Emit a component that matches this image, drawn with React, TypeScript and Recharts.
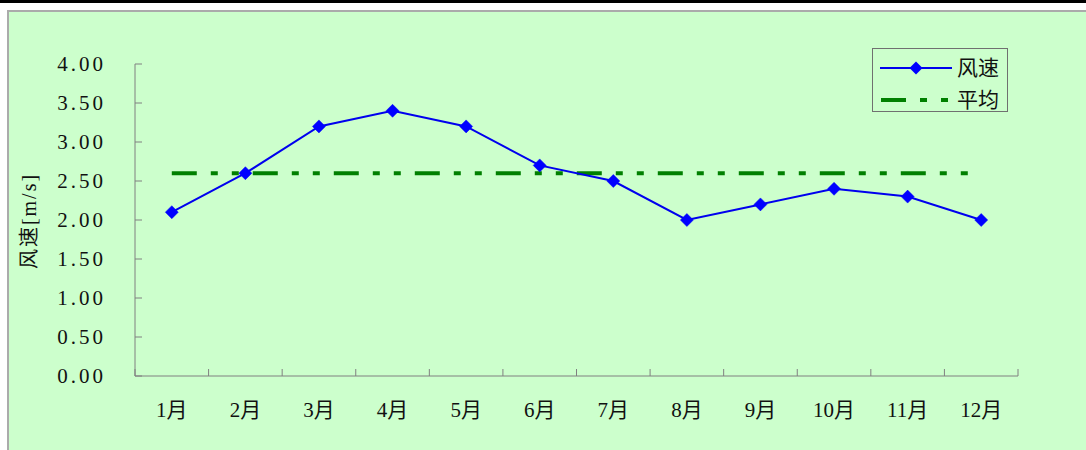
import React from 'react';
import { LineChart, Line, XAxis, YAxis, Legend } from 'recharts';

const months = ['1月', '2月', '3月', '4月', '5月', '6月', '7月', '8月', '9月', '10月', '11月', '12月'];
const windSpeed = [2.1, 2.6, 3.2, 3.4, 3.2, 2.7, 2.5, 2.0, 2.2, 2.4, 2.3, 2.0];
const average = [2.6, 2.6, 2.6, 2.6, 2.6, 2.6, 2.6, 2.6, 2.6, 2.6, 2.6, 2.6];
const yTicks = [0, 0.5, 1, 1.5, 2, 2.5, 3, 3.5, 4];
const seriesNames = { wind: '风速', avg: '平均' };
const yTitle = '风速[m/s]';

const data = months.map((m, i) => ({ month: m, wind: windSpeed[i], avg: average[i] }));

const W = 1086;
const H = 450;
const LEFT = 135;
const RIGHT_M = 68;
const TOP = 64;
const XAXIS_H = 74;
const PLOT_W = W - LEFT - RIGHT_M;
const BAND = PLOT_W / months.length;
const AXIS_COLOR = '#808080';
const FONT = "'Liberation Serif', 'Noto Sans CJK SC', serif";
const X_MARGIN = 26;
const Y_MARGIN = 32;

const XTick = (props: any) => {
  const { x, y, payload, index } = props;
  const axisY = y - X_MARGIN;
  const isLast = index === months.length - 1;
  return (
    <g>
      <line x1={x - BAND / 2} x2={x - BAND / 2} y1={axisY} y2={axisY - 7} stroke={AXIS_COLOR} strokeWidth={1} />
      {isLast && (
        <line x1={x + BAND / 2} x2={x + BAND / 2} y1={axisY} y2={axisY - 7} stroke={AXIS_COLOR} strokeWidth={1} />
      )}
      <text x={x} y={y} dy="0.71em" textAnchor="middle" fontSize={21} fontFamily={FONT} fill="#111">
        {payload.value}
      </text>
    </g>
  );
};

const YTick = (props: any) => {
  const { x, y, payload } = props;
  const axisX = x + Y_MARGIN;
  return (
    <g>
      <line x1={axisX} x2={axisX + 7} y1={y} y2={y} stroke={AXIS_COLOR} strokeWidth={1} />
      <text x={x + 3} y={y} dy="0.355em" textAnchor="end" fontSize={21} fontFamily={FONT} fill="#111" style={{ letterSpacing: '3px' }}>
        {Number(payload.value).toFixed(2)}
      </text>
    </g>
  );
};

const Diamond = (props: any) => {
  const { cx, cy } = props;
  if (cx == null || cy == null) return null;
  const r = 6.5;
  return <polygon points={`${cx},${cy - r} ${cx + r},${cy} ${cx},${cy + r} ${cx - r},${cy}`} fill="#0000FF" stroke="#0000FF" strokeWidth={0.5} />;
};

const renderYTitle = () => (
  <text x={29} y={221} transform="rotate(-90 29 221)" textAnchor="middle" dominantBaseline="central" fontSize={20} fontFamily={FONT} fill="#111" style={{ letterSpacing: '2px' }}>
    {yTitle}
  </text>
);

const renderLegend = () => (
  <div style={{ width: 136, height: 64, boxSizing: 'border-box', border: '1px solid #707070' }}>
    <svg width={134} height={62} style={{ display: 'block' }}>
      <line x1={7} x2={79} y1={19} y2={19} stroke="#0000EE" strokeWidth={2} />
      <polygon points="43,12.5 49.5,19 43,25.5 36.5,19" fill="#0000FF" />
      <text x={84} y={19} dominantBaseline="central" fontSize={21} fontFamily={FONT} fill="#111">{seriesNames.wind}</text>
      <line x1={8} x2={76} y1={51} y2={51} stroke="#008000" strokeWidth={4} strokeDasharray="25 14 7 14 7 14" />
      <text x={84} y={51} dominantBaseline="central" fontSize={21} fontFamily={FONT} fill="#111">{seriesNames.avg}</text>
    </svg>
  </div>
);

export default function App() {
  return (
    <div style={{ position: 'absolute', left: 0, top: 0, width: W, height: H, background: '#fff', overflow: 'hidden' }}>
      <div style={{ position: 'absolute', left: 0, top: 0, width: W, height: 3, background: '#000' }} />
      <div
        style={{
          position: 'absolute',
          left: 7,
          top: 10,
          right: 0,
          bottom: 0,
          background: '#CCFFCC',
          borderTop: '2px solid #ABABAB',
          borderLeft: '2px solid #ABABAB',
        }}
      />
      <div style={{ position: 'absolute', left: 0, top: 0 }}>
        <LineChart width={W} height={H} data={data} margin={{ top: TOP, right: RIGHT_M, bottom: 0, left: 0 }}>
          <XAxis
            dataKey="month"
            height={XAXIS_H}
            padding={{ left: BAND / 2, right: BAND / 2 }}
            interval={0}
            tickLine={false}
            tickSize={0}
            tickMargin={X_MARGIN}
            tick={<XTick />}
            axisLine={{ stroke: AXIS_COLOR, strokeWidth: 1 }}
          />
          <YAxis
            width={LEFT}
            domain={[0, 4]}
            ticks={yTicks}
            interval={0}
            tickLine={false}
            tickSize={0}
            tickMargin={Y_MARGIN}
            tick={<YTick />}
            axisLine={{ stroke: AXIS_COLOR, strokeWidth: 1 }}
            label={{ value: yTitle, content: renderYTitle }}
          />
          <Legend
            content={renderLegend}
            layout="horizontal"
            verticalAlign="middle"
            align="center"
            wrapperStyle={{ position: 'absolute', left: 872, top: 48, width: 136, height: 64 }}
          />
          <Line
            dataKey="avg"
            name={seriesNames.avg}
            stroke="#008000"
            strokeWidth={4}
            strokeDasharray="25 14 7 14 7 14"
            dot={false}
            activeDot={false}
            isAnimationActive={false}
          />
          <Line
            dataKey="wind"
            name={seriesNames.wind}
            stroke="#0000EE"
            strokeWidth={2}
            dot={<Diamond />}
            activeDot={false}
            isAnimationActive={false}
          />
        </LineChart>
      </div>
    </div>
  );
}
